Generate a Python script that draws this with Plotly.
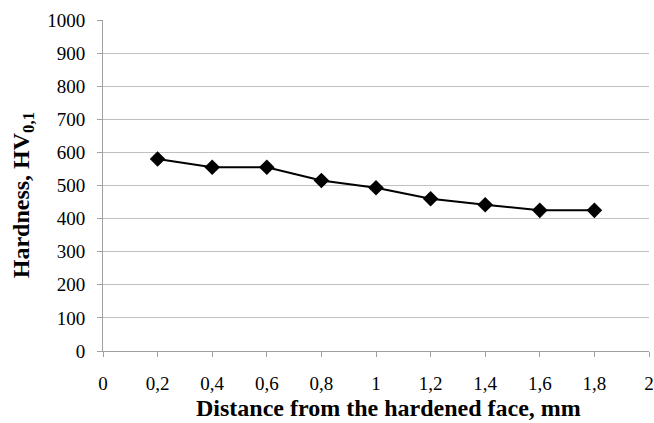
import plotly.graph_objects as go

distance_mm = [0.2, 0.4, 0.6, 0.8, 1.0, 1.2, 1.4, 1.6, 1.8]
hardness_hv = [580, 555, 555, 515, 493, 460, 442, 425, 425]

x_tick_vals = [0, 0.2, 0.4, 0.6, 0.8, 1.0, 1.2, 1.4, 1.6, 1.8, 2.0]
x_tick_text = ["0", "0,2", "0,4", "0,6", "0,8", "1", "1,2", "1,4", "1,6", "1,8", "2"]
y_tick_vals = [0, 100, 200, 300, 400, 500, 600, 700, 800, 900, 1000]

x_title = "<b>Distance from the hardened face, mm</b>"
y_title = "<b>Hardness, HV<sub>0,1</sub></b>"

font_family = "Liberation Serif"

fig = go.Figure()
fig.add_trace(go.Scatter(
    x=distance_mm, y=hardness_hv, mode="lines+markers",
    line=dict(color="black", width=2),
    marker=dict(symbol="diamond", size=12, color="black"),
    showlegend=False,
))

fig.update_layout(
    width=654, height=423,
    margin=dict(l=103, r=5, t=20, b=72),
    paper_bgcolor="white", plot_bgcolor="white",
    font=dict(family=font_family, color="black", size=18),
    xaxis=dict(
        range=[0, 2], tickvals=x_tick_vals, ticktext=x_tick_text,
        showgrid=False, zeroline=False, automargin=False,
        showline=True, linecolor="#a0a0a0", linewidth=1,
        ticks="outside", ticklen=5, tickcolor="#a0a0a0",
        ticklabeloverflow="allow", ticklabelstandoff=10,
        tickfont=dict(size=19, family=font_family),
    ),
    yaxis=dict(
        range=[0, 1000], tickvals=y_tick_vals,
        showgrid=True, gridcolor="#c0c0c0", gridwidth=1,
        zeroline=False, automargin=False,
        showline=True, linecolor="#a0a0a0", linewidth=1,
        ticks="outside", ticklen=5, tickcolor="#a0a0a0",
        ticklabelstandoff=8,
        tickfont=dict(size=19, family=font_family),
    ),
    annotations=[
        dict(text=x_title, xref="paper", yref="paper", x=0.522, y=-0.172,
             xanchor="center", yanchor="middle", showarrow=False,
             borderpad=0,
             font=dict(size=24, family=font_family, color="black")),
        dict(text=y_title, xref="paper", yref="paper", x=-0.145, y=0.47,
             xanchor="center", yanchor="middle", showarrow=False, textangle=-90,
             borderpad=0,
             font=dict(size=24, family=font_family, color="black")),
    ],
)

fig.write_html(
    "out.html",
    config={"displayModeBar": False},
    post_script="document.body.style.margin='0';document.body.style.overflow='hidden';",
)
